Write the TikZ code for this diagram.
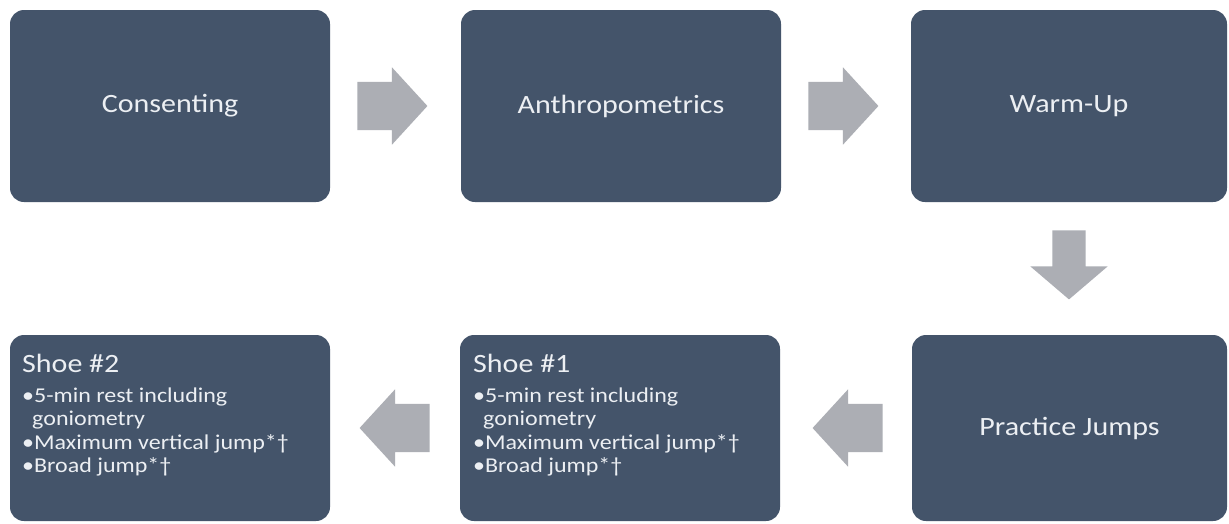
\documentclass[tikz,border=0pt]{standalone}
\usepackage{fontspec}
\setmainfont{Carlito}
\usetikzlibrary{shapes.arrows}
\definecolor{boxfill}{RGB}{68,84,106}
\definecolor{arrowgray}{RGB}{172,174,180}
\definecolor{boxtext}{RGB}{236,239,243}
\newcommand{\vsq}[1]{\scalebox{1}[0.88]{#1}}
\newcommand{\shoetext}[1]{\vsq{\parbox[t]{300pt}{\raggedright\fontsize{30}{36}\selectfont #1\par\vspace{8pt}\fontsize{24}{26.5}\selectfont •5-min rest including\par\hspace*{10pt}goniometry\par •Maximum vertical jump*†\par •Broad jump*†}}}
\tikzset{
  stepbox/.style={rectangle, rounded corners=14pt, fill=boxfill, draw=none, inner sep=0pt,
    minimum width=320pt, minimum height=189pt, text=boxtext, font=\fontsize{30}{36}\selectfont},
  shoetxt/.style={anchor=base west, inner sep=0pt, text=boxtext},
  harrow/.style={single arrow, fill=arrowgray, draw=none, inner xsep=0pt, inner ysep=24pt,
    minimum height=70pt, single arrow head extend=14.5pt, single arrow tip angle=95, anchor=tail},
  varrow/.style={single arrow, fill=arrowgray, draw=none, inner xsep=0pt, inner ysep=16.5pt,
    minimum height=69pt, single arrow head extend=22pt, single arrow tip angle=99, anchor=tail}
}
\begin{document}
\begin{tikzpicture}[x=1pt,y=-1pt]
\useasboundingbox[fill=white] (0,0) rectangle (1229,523);
% top row
\node[stepbox, minimum height=192pt] (b1) at (170,106) {\vsq{Consenting}};
\node[stepbox, minimum height=192pt] (b2) at (621,106) {\vsq{Anthropometrics}};
\node[stepbox, minimum height=192pt, minimum width=316pt] (b3) at (1069,106) {\vsq{Warm-Up}};
% bottom row
\node[stepbox, minimum height=186pt, minimum width=315pt] (b4) at (1069.5,428) {\vsq{Practice Jumps}};
\node[stepbox, minimum height=186pt] (b5) at (620,428) {};
\node[stepbox, minimum height=186pt] (b6) at (170,428) {};
\node[shoetxt] (t5) at (473,372) {\shoetext{Shoe \#1}};
\node[shoetxt] (t6) at (22,372) {\shoetext{Shoe \#2}};
% arrows
\node[harrow] (a1) at ([xshift=27pt]b1.east) {};
\node[harrow] (a2) at ([xshift=27pt]b2.east) {};
\node[varrow, rotate=-90] (a3) at ([yshift=-28pt]b3.south) {};
\node[harrow, rotate=180] (a4) at ([xshift=-29pt]b4.west) {};
\node[harrow, rotate=180] (a5) at ([xshift=-30pt]b5.west) {};
\end{tikzpicture}
\end{document}
